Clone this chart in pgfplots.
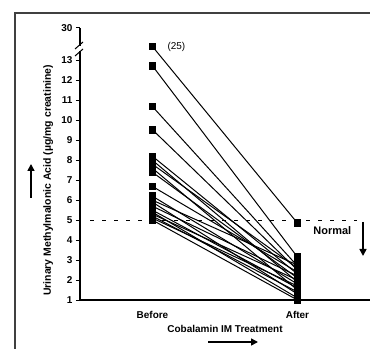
\documentclass[border=0pt]{standalone}
\usepackage{fontspec}
\setmainfont{Liberation Sans}
\usepackage{pgfplots}
\pgfplotsset{compat=1.18}
\usetikzlibrary{arrows.meta}
\begin{document}
\begin{tikzpicture}
\useasboundingbox (-80bp,-49bp) rectangle (293bp,300bp);
\begin{axis}[
  at={(0bp,0bp)}, anchor=south west,
  scale only axis, width=290bp, height=272bp,
  xmin=-0.5, xmax=1.5, ymin=1, ymax=14.63,
  axis lines=left, axis line style={-, line width=1.1bp, black},
  xtick={0,1}, xticklabels={Before,After},
  x tick style={draw=none},
  ytick={1,2,3,4,5,6,7,8,9,10,11,12,13,14.63},
  yticklabels={1,2,3,4,5,6,7,8,9,10,11,12,13,30},
  tick align=outside, major tick length=4bp,
  y tick style={line width=1bp, black},
  /pgf/number format/assume math mode=true,
  tick label style={font=\bfseries\fontsize{10}{12}\selectfont},
  xticklabel style={yshift=-4bp},
  ylabel={Urinary Methylmalonic Acid (\textmu g/mg creatinine)},
  ylabel style={at={(axis description cs:-0.11,0.44)}, anchor=center, font=\bfseries\fontsize{10.5}{12}\selectfont},
  xlabel={Cobalamin IM Treatment},
  xlabel style={at={(axis description cs:0.5,-0.1066)}, anchor=center, font=\bfseries\fontsize{10}{12}\selectfont},
  clip=false,
  pt/.style={black, solid, line width=1bp, mark=square*, mark size=3.3bp, mark options={solid, fill=black}},
]
\addplot[black, dash pattern=on 4bp off 8bp, line width=1bp, mark=none, forget plot] coordinates {(-0.43,5) (1.41,5)};
\addplot[pt] coordinates {(0,13.7) (1,4.85)};
\addplot[pt] coordinates {(0,12.73) (1,3.15)};
\addplot[pt] coordinates {(0,10.69) (1,2.7)};
\addplot[pt] coordinates {(0,9.53) (1,2.5)};
\addplot[pt] coordinates {(0,8.2) (1,2.3)};
\addplot[pt] coordinates {(0,8.0) (1,1.9)};
\addplot[pt] coordinates {(0,7.8) (1,2.6)};
\addplot[pt] coordinates {(0,7.6) (1,1.5)};
\addplot[pt] coordinates {(0,7.4) (1,2.1)};
\addplot[pt] coordinates {(0,6.69) (1,2.4)};
\addplot[pt] coordinates {(0,6.2) (1,1.8)};
\addplot[pt] coordinates {(0,6.0) (1,2.75)};
\addplot[pt] coordinates {(0,5.9) (1,1.3)};
\addplot[pt] coordinates {(0,5.7) (1,2.2)};
\addplot[pt] coordinates {(0,5.5) (1,1.6)};
\addplot[pt] coordinates {(0,5.4) (1,1.1)};
\addplot[pt] coordinates {(0,5.3) (1,2.0)};
\addplot[pt] coordinates {(0,5.2) (1,1.4)};
\addplot[pt] coordinates {(0,5.1) (1,1.7)};
\addplot[pt] coordinates {(0,5.0) (1,1.0)};
\node[font=\fontsize{10}{12}\selectfont] at (axis cs:0.165,13.7) {(25)};
\node[font=\bfseries\fontsize{11}{13}\selectfont] at (axis cs:1.24,4.5) {Normal};
\end{axis}
% frame
\draw[line width=1.2bp, black!75] (-65bp,-49bp) -- (-65bp,287bp) -- (290bp,287bp);
% axis break
\fill[white] (-2bp,248.5bp) rectangle (2bp,254bp);
\draw[line width=1bp] (-5bp,244bp) -- (3bp,251bp);
\draw[line width=1bp] (-5bp,251bp) -- (3bp,258bp);
% arrows
\draw[line width=1.6bp, -{Triangle[width=7bp,length=7bp]}] (-49bp,102bp) -- (-49bp,136bp);
\draw[line width=1.6bp, -{Triangle[width=7bp,length=7bp]}] (128bp,-42bp) -- (178bp,-42bp);
\draw[line width=1.6bp, -{Triangle[width=7bp,length=7bp]}] (283bp,78bp) -- (283bp,44bp);
\end{tikzpicture}
\end{document}
